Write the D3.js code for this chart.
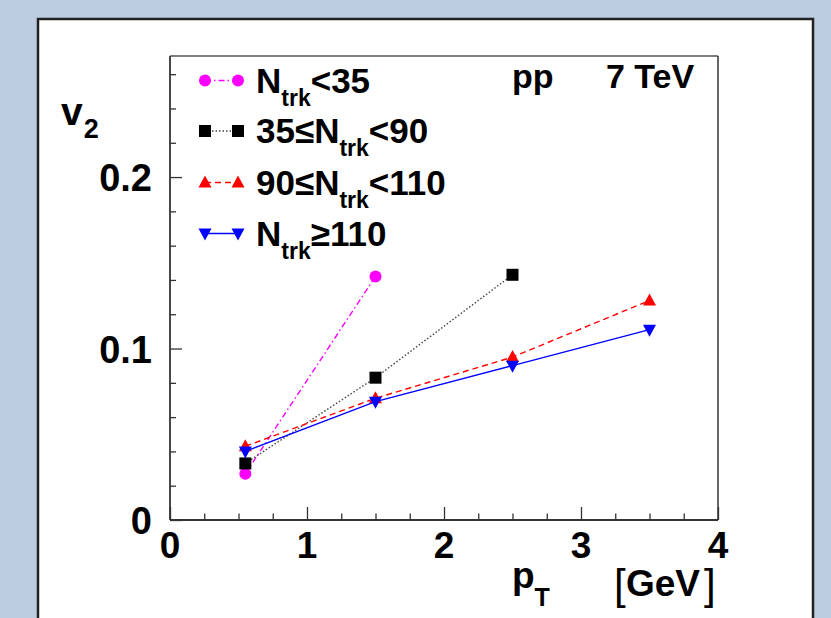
<!DOCTYPE html>
<html><head><meta charset="utf-8">
<script src="https://cdn.jsdelivr.net/npm/d3@7"></script>
<style>
html,body{margin:0;padding:0;background:#bdcde0;}
svg{display:block;font-family:"Liberation Sans",Arial,Helvetica,sans-serif;}
</style></head><body>
<svg id="c" width="831" height="618"></svg>
<script>
// ---- data ----
const ptLow = [0.55, 1.5];
const ptMid = [0.55, 1.5, 2.5];
const ptAll = [0.55, 1.5, 2.5, 3.5];
const v2Ntrk35 = [0.027, 0.142];
const v2Ntrk35to90 = [0.033, 0.083, 0.143];
const v2Ntrk90to110 = [0.043, 0.071, 0.095, 0.128];
const v2Ntrk110 = [0.040, 0.069, 0.090, 0.111];
const xTicks = [0, 1, 2, 3, 4];
const yTicks = [0, 0.1, 0.2];
const legendLabels = [["N","trk","<35"],["35≤N","trk","<90"],["90≤N","trk","<110"],["N","trk","≥110"]];

const series = [
  {x: ptLow, y: v2Ntrk35, color: "#ff00ff", dash: "6,3,1.5,3", marker: "circle"},
  {x: ptMid, y: v2Ntrk35to90, color: "#000000", dash: "1.5,2", marker: "square", lineColor:"#444"},
  {x: ptAll, y: v2Ntrk90to110, color: "#ff0000", dash: "6,4", marker: "triangle"},
  {x: ptAll, y: v2Ntrk110, color: "#0000ff", dash: null, marker: "triangleDown"}
];

const svg = d3.select("#c");
// outer white pad
svg.append("rect").attr("x",38).attr("y",19).attr("width",775).attr("height",640)
  .attr("fill","#fff").attr("stroke","#222").attr("stroke-width",2.5);

const L=170, R=718, T=56, B=520;
const x = d3.scaleLinear().domain([0,4]).range([L,R]);
const y = d3.scaleLinear().domain([0,0.2706]).range([B,T]);

// frame top/right
svg.append("line").attr("x1",L).attr("x2",R).attr("y1",T).attr("y2",T).attr("stroke","#000").attr("stroke-width",1.2);
svg.append("line").attr("x1",R).attr("x2",R).attr("y1",T).attr("y2",B).attr("stroke","#000").attr("stroke-width",1.2);

// axes
const xAxis = d3.axisBottom(x).tickValues(d3.range(0,4.001,0.25)).tickSize(0).tickFormat("");
const gx = svg.append("g").attr("transform",`translate(0,${B})`).call(xAxis);
gx.select(".domain").remove();
gx.selectAll(".tick line").remove();
gx.selectAll(".tick").append("line")
  .attr("y1",0).attr("y2",d=> (Math.abs(d-Math.round(d))<1e-6) ? -13 : -6.5)
  .attr("stroke","#333").attr("stroke-width",1.3);
svg.append("line").attr("x1",L).attr("x2",R).attr("y1",B).attr("y2",B).attr("stroke","#333").attr("stroke-width",1.8);

const yAxis = d3.axisLeft(y).tickValues(d3.range(0,0.2601,0.02)).tickSize(0).tickFormat("");
const gy = svg.append("g").attr("transform",`translate(${L},0)`).call(yAxis);
gy.select(".domain").remove();
gy.selectAll(".tick line").remove();
gy.selectAll(".tick").append("line")
  .attr("x1",0).attr("x2",d=> (Math.abs(d*10-Math.round(d*10))<1e-6) ? 12 : 6)
  .attr("stroke","#333").attr("stroke-width",1.3);
svg.append("line").attr("x1",L).attr("x2",L).attr("y1",T).attr("y2",B).attr("stroke","#333").attr("stroke-width",1.8);

// tick labels
svg.selectAll(".xl").data(xTicks).enter().append("text")
  .attr("x",d=>x(d)).attr("y",558).attr("text-anchor","middle")
  .attr("font-size",37).attr("font-weight","bold").text(d=>d);
svg.selectAll(".yl").data(yTicks).enter().append("text")
  .attr("x",152).attr("y",d=>y(d)+14).attr("text-anchor","end")
  .attr("font-size",38).attr("font-weight","bold").text(d=>d===0?"0":d.toFixed(1));

// axis titles
const v2 = svg.append("text").attr("x",61).attr("y",125).attr("font-weight","bold");
v2.append("tspan").attr("font-size",39).text("v");
v2.append("tspan").attr("font-size",27).attr("dy",13).attr("dx",1).text("2");

const pt = svg.append("text").attr("x",512).attr("y",588).attr("font-weight","bold");
pt.append("tspan").attr("font-size",37).text("p");
pt.append("tspan").attr("font-size",25).attr("dy",18).text("T");
svg.append("text").attr("x",614).attr("y",599).attr("font-size",42).attr("fill","#000").text("[");
svg.append("text").attr("x",626).attr("y",596).attr("font-size",37).attr("font-weight","bold").text("GeV");
svg.append("text").attr("x",704).attr("y",599).attr("font-size",42).text("]");

// pp 7 TeV
svg.append("text").attr("x",512).attr("y",88).attr("font-size",34).attr("font-weight","bold").text("pp");
svg.append("text").attr("x",606).attr("y",88).attr("font-size",34).attr("font-weight","bold").text("7 TeV");

// markers
function drawMarker(g, type, cx, cy, color){
  if(type==="circle") g.append("circle").attr("cx",cx).attr("cy",cy).attr("r",6).attr("fill",color);
  else if(type==="square") g.append("rect").attr("x",cx-6).attr("y",cy-6).attr("width",12).attr("height",12).attr("fill",color);
  else if(type==="triangle") g.append("path").attr("d",`M${cx},${cy-7} L${cx+6.5},${cy+5} L${cx-6.5},${cy+5}Z`).attr("fill",color);
  else g.append("path").attr("d",`M${cx},${cy+7} L${cx+6.5},${cy-5} L${cx-6.5},${cy-5}Z`).attr("fill",color);
}

const line = d3.line().x(d=>x(d[0])).y(d=>y(d[1]));
series.forEach(s=>{
  const pts = s.x.map((xv,i)=>[xv,s.y[i]]);
  const g = svg.append("g");
  g.append("path").attr("d",line(pts)).attr("fill","none")
    .attr("stroke",s.lineColor||s.color).attr("stroke-width",1.4)
    .attr("stroke-dasharray",s.dash);
  pts.forEach(p=>drawMarker(g,s.marker,x(p[0]),y(p[1]),s.color));
});

// legend
const rowsY = [80.5, 131, 182.5, 233.5];
series.forEach((s,i)=>{
  const g = svg.append("g");
  const cy = rowsY[i];
  g.append("line").attr("x1",205).attr("x2",238).attr("y1",cy).attr("y2",cy)
    .attr("stroke",s.lineColor||s.color).attr("stroke-width",1.4).attr("stroke-dasharray",s.dash);
  drawMarker(g,s.marker,205,cy,s.color);
  drawMarker(g,s.marker,238,cy,s.color);
  const t = g.append("text").attr("x",256).attr("y",cy+12).attr("font-weight","bold");
  const lab = legendLabels[i];
  t.append("tspan").attr("font-size",35).text(lab[0]);
  t.append("tspan").attr("font-size",23).attr("dy",13).text(lab[1]);
  t.append("tspan").attr("font-size",35).attr("dy",-13).text(lab[2]);
});
</script>
</body></html>
